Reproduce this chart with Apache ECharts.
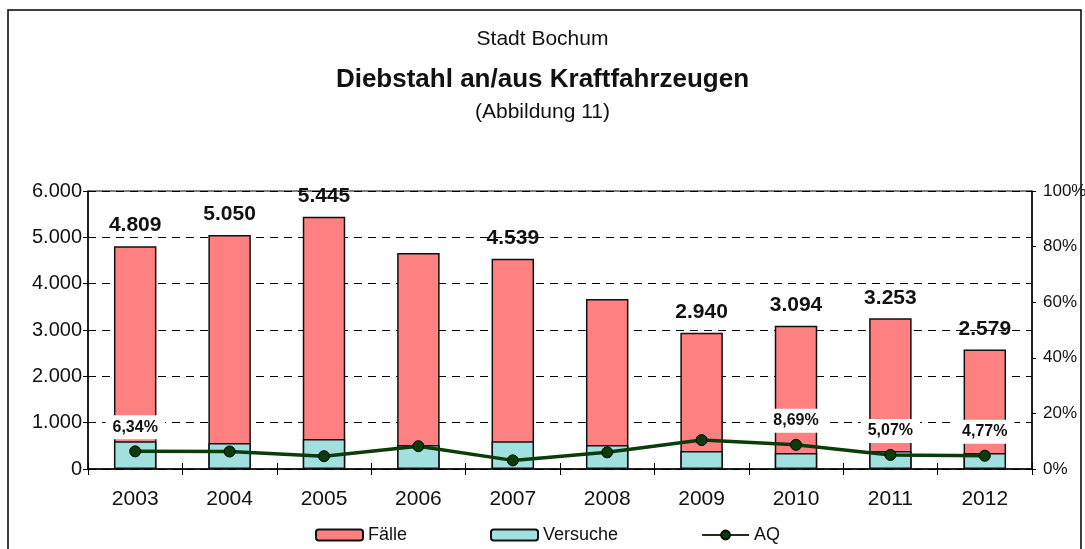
<!DOCTYPE html>
<html>
<head>
<meta charset="utf-8">
<script src="https://cdn.jsdelivr.net/npm/echarts@6/dist/echarts.min.js"></script>
<style>
  html, body { margin: 0; padding: 0; background: #fff; }
  #chart { width: 1085px; height: 549px; }
</style>
</head>
<body>
<div id="chart"></div>
<script>
const years = ['2003', '2004', '2005', '2006', '2007', '2008', '2009', '2010', '2011', '2012'];
const faelle = [4809, 5050, 5445, 4660, 4539, 3670, 2940, 3094, 3253, 2579];
const versuche = [600, 560, 650, 520, 600, 520, 390, 345, 390, 345];
const aq = [6.34, 6.3, 4.6, 8.2, 3.1, 6.0, 10.4, 8.69, 5.07, 4.77];
// which bars / points carry a value label in the original
const faelleLabelled = ['2003', '2004', '2005', '2007', '2009', '2010', '2011', '2012'];
const aqLabelled = ['2003', '2010', '2011', '2012'];

const FONT = 'Liberation Sans, Arial, sans-serif';

function deNum(v) {
  return String(v).replace(/\B(?=(\d{3})+(?!\d))/g, '.');
}

const chart = echarts.init(document.getElementById('chart'));

chart.setOption({
  animation: false,
  textStyle: { fontFamily: FONT, color: '#111' },
  title: [
    { text: 'Stadt Bochum', left: 'center', top: 24, textStyle: { fontFamily: FONT, fontSize: 21, fontWeight: 'normal', color: '#111' } },
    { text: 'Diebstahl an/aus Kraftfahrzeugen', left: 'center', top: 62, textStyle: { fontFamily: FONT, fontSize: 26, fontWeight: 'bold', color: '#111' } },
    { text: '(Abbildung 11)', left: 'center', top: 97, textStyle: { fontFamily: FONT, fontSize: 21, fontWeight: 'normal', color: '#111' } }
  ],
  graphic: [
    {
      type: 'rect',
      shape: { x: 8, y: 10, width: 1073, height: 560 },
      style: { fill: 'none', stroke: '#000', lineWidth: 1.5 },
      silent: true
    }
  ],
  legend: {
    bottom: 0,
    left: 310,
    itemGap: 83,
    itemWidth: 47,
    itemHeight: 11,
    textStyle: { fontFamily: FONT, fontSize: 18, color: '#111' },
    data: ['Fälle', 'Versuche', 'AQ']
  },
  grid: {
    left: 88,
    right: 53,
    top: 191,
    bottom: 80,
    outerBoundsMode: 'none',
    containLabel: false,
    show: true,
    borderColor: '#000',
    borderWidth: 1
  },
  xAxis: [
    {
      type: 'category',
      data: years,
      axisLine: { lineStyle: { color: '#000', width: 1.5 } },
      axisTick: { show: true, length: 6, lineStyle: { color: '#000' } },
      axisLabel: { fontFamily: FONT, fontSize: 21, color: '#111', margin: 20 }
    },
    {
      // inner half of the crossing ticks
      type: 'category',
      data: years,
      position: 'bottom',
      offset: 0,
      axisLine: { show: false },
      axisTick: { show: true, inside: true, length: 6, lineStyle: { color: '#000' } },
      axisLabel: { show: false }
    }
  ],
  yAxis: [
    {
      type: 'value',
      min: 0,
      max: 6000,
      interval: 1000,
      axisLine: { show: true, lineStyle: { color: '#000', width: 1.5 } },
      axisTick: { show: true, length: 5, lineStyle: { color: '#000' } },
      axisLabel: { fontFamily: FONT, fontSize: 20, color: '#111', margin: 6, formatter: deNum },
      splitLine: { show: true, lineStyle: { color: '#000', type: [8, 6], width: 1 } }
    },
    {
      type: 'value',
      min: 0,
      max: 100,
      interval: 20,
      axisLine: { show: true, lineStyle: { color: '#000', width: 1.5 } },
      axisTick: { show: true, length: 4, lineStyle: { color: '#000' } },
      axisLabel: { fontFamily: FONT, fontSize: 17, color: '#111', margin: 11, formatter: '{value}%' },
      splitLine: { show: false }
    }
  ],
  series: [
    {
      name: 'Fälle',
      type: 'bar',
      barWidth: '45%',
      barGap: '-100%',
      itemStyle: { color: '#FF8080', borderColor: '#111', borderWidth: 1.5 },
      data: faelle.map((v, i) => ({
        value: v,
        label: { show: faelleLabelled.includes(years[i]) }
      })),
      label: {
        position: 'top',
        distance: 10,
        fontFamily: FONT,
        fontSize: 21,
        fontWeight: 'bold',
        color: '#111',
        formatter: p => deNum(p.value)
      },
      z: 2
    },
    {
      name: 'Versuche',
      type: 'bar',
      barWidth: '45%',
      itemStyle: { color: '#A2E0E0', borderColor: '#111', borderWidth: 1.5 },
      data: versuche,
      z: 3
    },
    {
      name: 'AQ',
      type: 'line',
      yAxisIndex: 1,
      symbol: 'circle',
      symbolSize: 11,
      lineStyle: { color: '#0B3D0B', width: 3.5 },
      itemStyle: { color: '#0B3D0B', borderColor: '#000', borderWidth: 1 },
      data: aq.map((v, i) => ({
        value: v,
        label: { show: aqLabelled.includes(years[i]) }
      })),
      label: {
        position: 'top',
        distance: 6,
        fontFamily: FONT,
        fontSize: 16,
        fontWeight: 'bold',
        color: '#111',
        backgroundColor: '#fff',
        padding: [4, 7],
        formatter: p => p.value.toFixed(2).replace('.', ',') + '%'
      },
      z: 5
    }
  ]
});
</script>
</body>
</html>
